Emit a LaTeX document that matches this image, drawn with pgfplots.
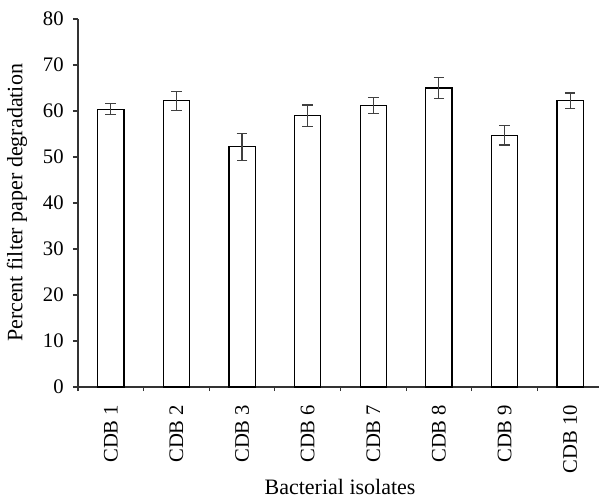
\documentclass[border=0pt]{standalone}
\usepackage{pgfplots}
\pgfplotsset{compat=1.18}
\usepackage{fontspec}
\setmainfont{Liberation Serif}
\begin{document}
\begin{tikzpicture}
\begin{axis}[
  at={(0,0)}, anchor=south west,
  scale only axis,
  width=390.75pt, height=276pt,
  xmin=-0.5, xmax=7.44,
  ymin=0, ymax=80,
  ytick={0,10,...,80},
  xtick={0,...,7},
  xticklabels={CDB 1,CDB 2,CDB 3,CDB 6,CDB 7,CDB 8,CDB 9,CDB 10},
  minor xtick={-0.5,0.5,...,6.5},
  axis x line*=bottom, axis y line*=left,
  axis line style={line width=0.8pt, draw=black!80},
  tick align=outside,
  major x tick style={draw=none},
  major tick length=3.75pt,
  minor tick length=3pt,
  every tick/.style={line width=0.8pt, draw=black!80},
  minor x tick style={line width=0.8pt, draw=black!80},
  /pgf/number format/assume math mode=true,
  tick label style={font=\fontsize{15.5}{17}\selectfont},
  xticklabel style={rotate=90, anchor=east},
  xticklabel shift=6pt,
  yticklabel shift=3.5pt,
  label style={font=\fontsize{16.5}{18}\selectfont},
  xlabel={Bacterial isolates},
  ylabel={Percent filter paper degradation},
  xlabel style={at={(axis description cs:0.503,-0.272)}, anchor=center},
  ylabel style={at={(axis description cs:-0.117,0.5)}, anchor=center},
  clip=false,
]
\addplot[ybar, bar width=0.4, fill=white, draw=black, line width=0.9pt,
  error bars/.cd, y dir=both, y explicit,
  error bar style={line width=0.9pt, draw=black!75},
  error mark options={rotate=90, mark size=4pt, line width=0.9pt, draw=black!75}]
coordinates {
  (0,60.4) +- (0,1.2)
  (1,62.2) +- (0,2.1)
  (2,52.2) +- (0,2.9)
  (3,59.0) +- (0,2.3)
  (4,61.2) +- (0,1.7)
  (5,65.0) +- (0,2.2)
  (6,54.7) +- (0,2.1)
  (7,62.2) +- (0,1.7)
};
\end{axis}
\pgfresetboundingbox
\path[use as bounding box] (-58.5pt,-84pt) rectangle ++(449.25pt,374.25pt);
\end{tikzpicture}
\end{document}
